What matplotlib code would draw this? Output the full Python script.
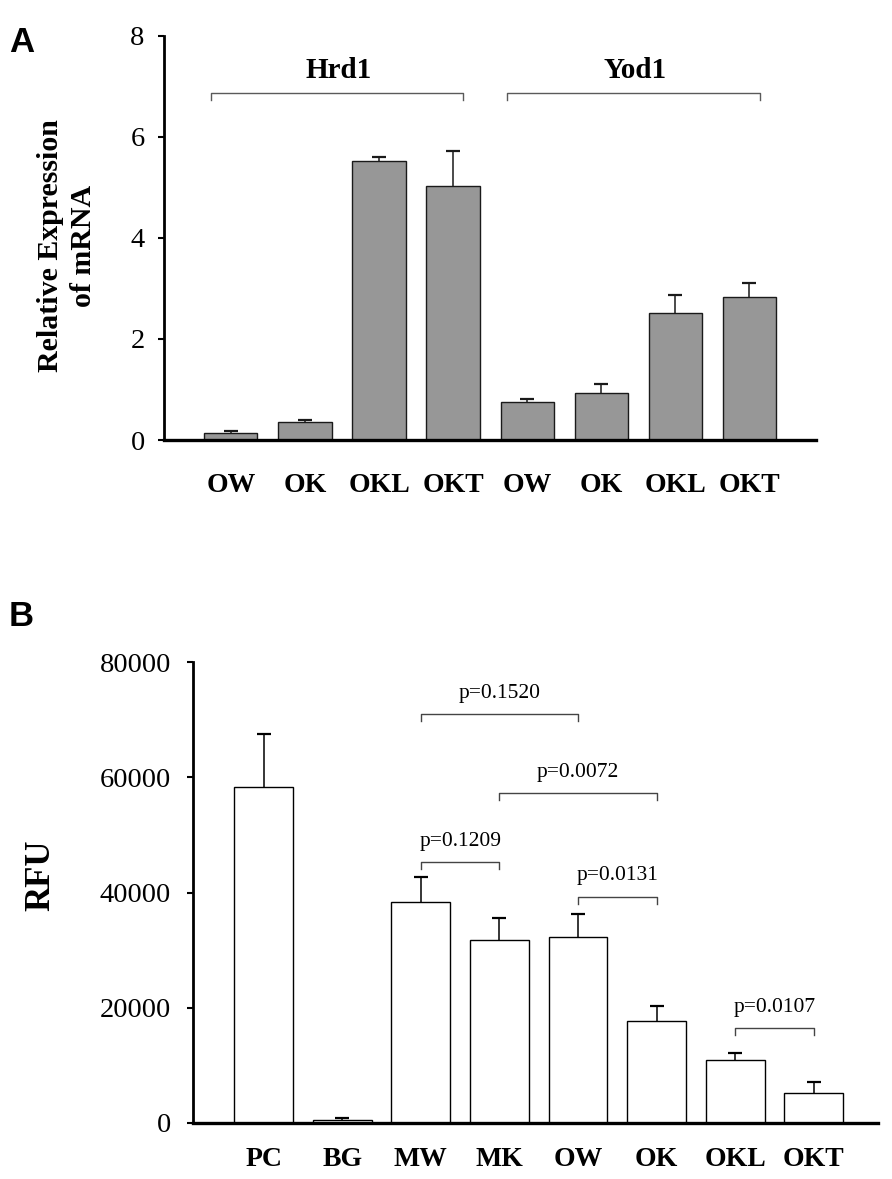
import numpy as np
import matplotlib
matplotlib.use('Agg')
import matplotlib.pyplot as plt

# Panel A: relative mRNA expression (Hrd1 / Yod1)
genes = ['Hrd1', 'Yod1']
groups_a = ['OW', 'OK', 'OKL', 'OKT', 'OW', 'OK', 'OKL', 'OKT']
expr_mean = [0.145, 0.35, 5.52, 5.03, 0.76, 0.93, 2.52, 2.84]
expr_err = [0.035, 0.04, 0.08, 0.70, 0.06, 0.17, 0.36, 0.27]
yticks_a = [0, 2, 4, 6, 8]

# Panel B: RFU
samples_b = ['PC', 'BG', 'MW', 'MK', 'OW', 'OK', 'OKL', 'OKT']
rfu_mean = [58350, 530, 38280, 31680, 32210, 17620, 10960, 5150]
rfu_err = [9110, 270, 4360, 3960, 4090, 2710, 1250, 1910]
yticks_b = [0, 20000, 40000, 60000, 80000]

# significance brackets: (left sample index, right sample index, label, height)
comp_left = [2, 3, 2, 4, 6]
comp_right = [4, 5, 3, 5, 7]
comp_label = ['p=0.1520', 'p=0.0072', 'p=0.1209', 'p=0.0131', 'p=0.0107']
comp_height = [70960, 57290, 45210, 39270, 16500]

SERIF = 'Liberation Serif'
plt.rcParams['font.family'] = SERIF

fig = plt.figure(figsize=(8.92, 11.79), dpi=100)


def style_axes(ax, ticks, tick_pad, label_pad):
    for s in ['top', 'right']:
        ax.spines[s].set_visible(False)
    ax.spines['left'].set_linewidth(2.0)
    ax.spines['bottom'].set_linewidth(2.4)
    ax.set_yticks(ticks)
    ax.tick_params(axis='y', direction='out', length=4, width=1.5,
                   labelsize=20.5, pad=tick_pad)
    ax.tick_params(axis='x', length=0, pad=label_pad)
    for lab in ax.get_xticklabels():
        lab.set_fontweight('bold')
        lab.set_fontsize(20)


def bars_with_err(ax, x, mean, err, width, face, edge):
    ax.bar(x, mean, width=width, color=face, edgecolor=edge,
           linewidth=1.0, zorder=2)
    top = np.asarray(mean) + np.asarray(err)
    # upper error only, no cap at the bar top
    ax.vlines(x, mean, top, color=edge, lw=1.1, zorder=3)
    ax.plot(x, top, ls='none', marker='_', markersize=10, mew=1.6,
            color=edge, zorder=3)


# ---------------- Panel A ----------------
axA = fig.add_axes([0.184, 0.6268, 0.731, 0.3427])
xa = np.arange(len(groups_a))
bars_with_err(axA, xa, expr_mean, expr_err, 0.72, '#979797', '#1a1a1a')
axA.set_xlim(-0.9, 7.9)
axA.set_ylim(0, 8)
axA.set_xticks(xa)
axA.set_xticklabels(groups_a)
style_axes(axA, yticks_a, 10, 24)
axA.set_ylabel('Relative Expression\nof mRNA', fontsize=21.5, fontweight='bold',
               va='center', linespacing=1.25)
axA.yaxis.set_label_coords(-0.149, 0.48)

# gene brackets
for g, gene in enumerate(genes):
    x0 = g * 4 - 0.27
    x1 = g * 4 + 3 + 0.14
    axA.plot([x0, x0, x1, x1], [6.73, 6.88, 6.88, 6.73], color='#5a5a5a',
             lw=1.0, clip_on=False)
    axA.text(g * 4 + 1.45, 7.31, gene, ha='center', va='center',
             fontsize=21, fontweight='bold')

fig.text(0.024, 0.964, 'A', family='Liberation Sans', fontweight='bold',
         fontsize=25, ha='center', va='center')

# ---------------- Panel B ----------------
axB = fig.add_axes([0.2164, 0.0475, 0.768, 0.391])
xb = np.arange(len(samples_b))
bars_with_err(axB, xb, rfu_mean, rfu_err, 0.75, 'white', 'black')
axB.set_xlim(-0.9, 7.82)
axB.set_ylim(0, 80000)
axB.set_xticks(xb)
axB.set_xticklabels(samples_b)
style_axes(axB, yticks_b, 12, 17)
axB.set_ylabel('RFU', fontsize=25, fontweight='bold', va='center')
axB.yaxis.set_label_coords(-0.222, 0.538)

for i0, i1, lab, h in zip(comp_left, comp_right, comp_label, comp_height):
    axB.plot([i0, i0, i1, i1], [h - 1200, h, h, h - 1200], color='#444444',
             lw=1.0)
    axB.text((i0 + i1) / 2, h + 3600, lab, ha='center', va='center',
             fontsize=15.5)

fig.text(0.024, 0.477, 'B', family='Liberation Sans', fontweight='bold',
         fontsize=25, ha='center', va='center')

fig.savefig('out.png', dpi=100)
